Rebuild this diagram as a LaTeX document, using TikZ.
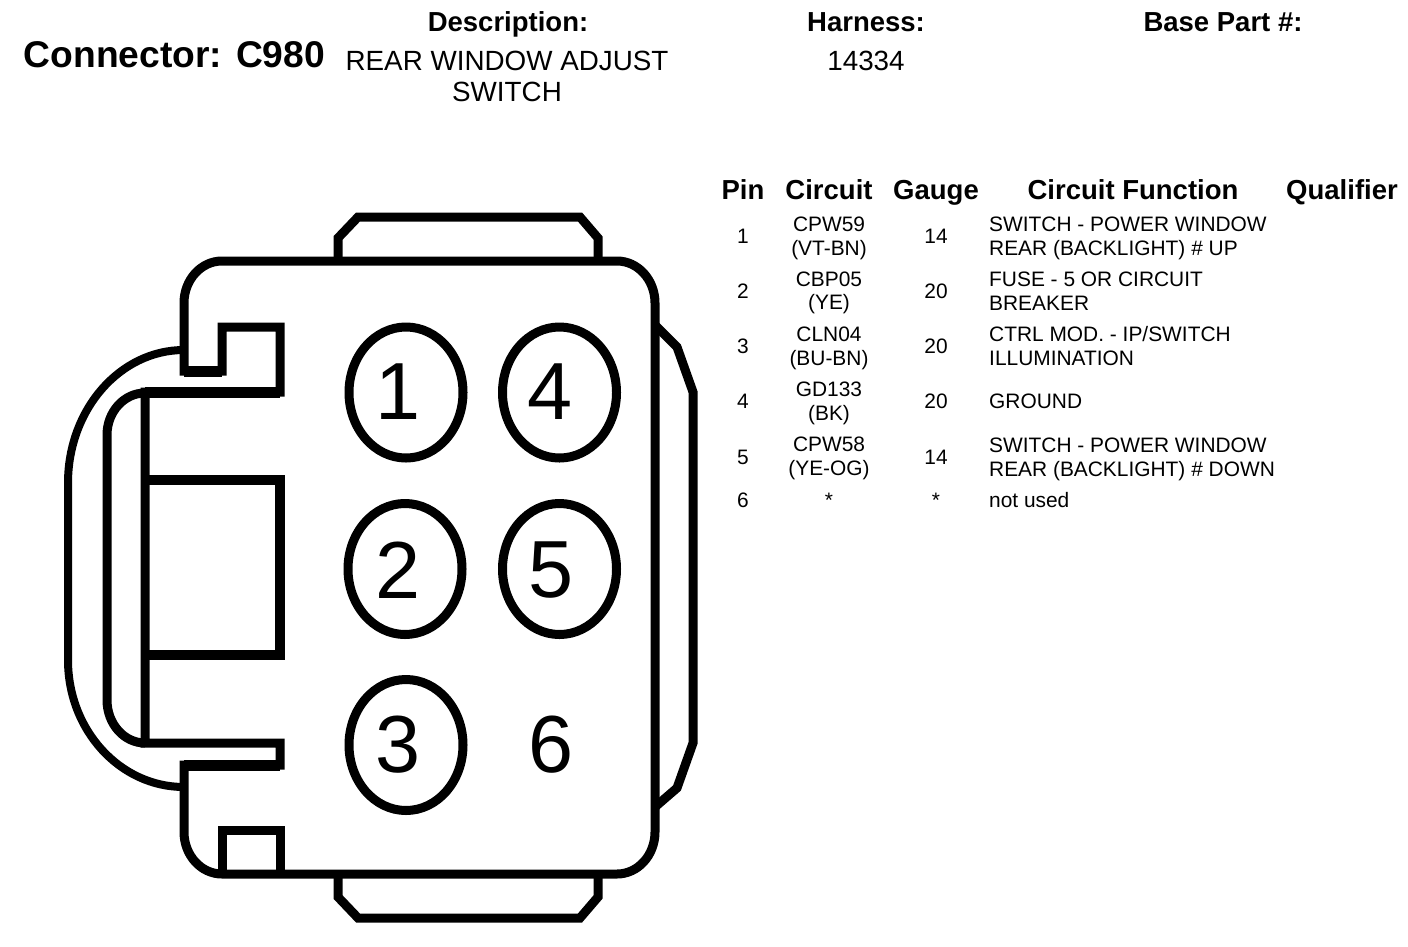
\documentclass[tikz,border=0pt]{standalone}
\usepackage{fontspec}
\setmainfont{Liberation Sans}
\usetikzlibrary{shapes.geometric}
\tikzset{
    wall/.style={line width=9pt, line join=miter, line cap=butt},
    heavy/.style={line width=11pt},
    hole/.style={draw, ellipse, line width=9pt, minimum width=114pt, minimum height=131pt, inner sep=0pt},
    digit/.style={inner sep=0pt, font=\fontsize{81}{81}\selectfont},
    title/.style={inner sep=0pt, anchor=base, font=\bfseries\fontsize{27.5}{30}\selectfont},
    big/.style={inner sep=0pt, anchor=base, font=\bfseries\fontsize{37.2}{40}\selectfont},
    info/.style={inner sep=0pt, align=center, font=\fontsize{27.8}{31}\selectfont},
    cell/.style={inner sep=0pt, align=center, font=\fontsize{20.9}{23.5}\selectfont},
    func/.style={inner sep=0pt, anchor=west, align=left, font=\fontsize{20.9}{23.5}\selectfont}
}
\begin{document}
\begin{tikzpicture}[x=1pt, y=-1pt]
\useasboundingbox (0,0) rectangle (1408,946);
%% heading
    \node[big] (conn) at (174.5,67) {Connector: C980};
    \node[title] (desc) at (508,31) {Description:};
    \node[title] (harn) at (866,31) {Harness:};
    \node[title] (base) at (1223,31) {Base Part \#:};
    \node[info] (desctext) at (507,76) {REAR WINDOW ADJUST\\SWITCH};
    \node[info] (harntext) at (866,61) {14334};
%% table head
    \node[title] (hpin) at (743,199) {Pin};
    \node[title] (hcirc) at (829,199) {Circuit};
    \node[title] (hgauge) at (936,199) {Gauge};
    \node[title] (hfunc) at (1133,199) {Circuit Function};
    \node[title] (hqual) at (1342,199) {Qualifier};
%% table rows
    \node[cell] (p1) at (743,236) {1};
    \node[cell] (c1) at (829,238.5) {CPW59\\(VT-BN)};
    \node[cell] (g1) at (936,236) {14};
    \node[func] (f1) at (989,238.5) {SWITCH - POWER WINDOW\\REAR (BACKLIGHT) \# UP};
    \node[cell] (p2) at (743,291) {2};
    \node[cell] (c2) at (829,293) {CBP05\\(YE)};
    \node[cell] (g2) at (936,291) {20};
    \node[func] (f2) at (989,291) {FUSE - 5 OR CIRCUIT\\BREAKER};
    \node[cell] (p3) at (743,346) {3};
    \node[cell] (c3) at (829,348.5) {CLN04\\(BU-BN)};
    \node[cell] (g3) at (936,346) {20};
    \node[func] (f3) at (989,346) {CTRL MOD. - IP/SWITCH\\ILLUMINATION};
    \node[cell] (p4) at (743,401) {4};
    \node[cell] (c4) at (829,403.5) {GD133\\(BK)};
    \node[cell] (g4) at (936,401) {20};
    \node[func] (f4) at (989,401) {GROUND};
    \node[cell] (p5) at (743,457) {5};
    \node[cell] (c5) at (829,458.5) {CPW58\\(YE-OG)};
    \node[cell] (g5) at (936,457) {14};
    \node[func] (f5) at (989,459.5) {SWITCH - POWER WINDOW\\REAR (BACKLIGHT) \# DOWN};
    \node[cell] (p6) at (743,500) {6};
    \node[cell] (c6) at (829,500) {*};
    \node[cell] (g6) at (936,500) {*};
    \node[func] (f6) at (989,500) {not used};
%% body outline
    \draw[wall] (222,261) -- (617,261) arc[start angle=270, end angle=360, x radius=38, y radius=42]
        -- (655,832) arc[start angle=0, end angle=90, x radius=38, y radius=42]
        -- (222,874) arc[start angle=90, end angle=180, x radius=38, y radius=42]
        -- (184,765) -- (280,765) -- (280,743) -- (145,743) -- (145,392) -- (280,392)
        -- (280,327) -- (222,327) -- (222,371) -- (184,371)
        -- (184,303) arc[start angle=180, end angle=270, x radius=38, y radius=42] -- cycle;
%% heavy edges
    \draw[heavy] (184,371) -- (222,371);
    \draw[heavy] (145,392) -- (280,392);
    \draw[heavy] (184,765) -- (280,765);
%% middle window
    \draw[wall, line width=10.5pt] (145,480) -- (280,480) -- (280,655) -- (145,655);
%% lower square
    \draw[wall] (222,874) -- (222,830) -- (280,830) -- (280,874);
%% top and bottom tabs
    \draw[wall] (338,261) -- (338,238) -- (358,217) -- (580,217) -- (598,238) -- (598,261);
    \draw[wall] (338,874) -- (338,897) -- (358,918) -- (580,918) -- (598,897) -- (598,874);
%% right clip
    \draw[wall] (655,325) -- (677,347) -- (693,392) -- (693,743) -- (677,788) -- (655,807);
%% left straps
    \draw[line width=8pt] (184,350) arc[start angle=270, end angle=180, x radius=116, y radius=133]
        -- (68,660) arc[start angle=180, end angle=90, x radius=116, y radius=127];
    \draw[wall] (145,393) arc[start angle=270, end angle=180, x radius=38, y radius=42]
        -- (107,700) arc[start angle=180, end angle=90, x radius=38, y radius=43];
%% pins
    \node[hole] (pin1) at (406,392.5) {};
    \node[hole] (pin4) at (559.5,392.5) {};
    \node[hole] (pin2) at (405,569) {};
    \node[hole] (pin5) at (559.5,569) {};
    \node[hole] (pin3) at (406,745) {};
    \node[digit] (num1) at (398,392) {1};
    \node[digit] (num4) at (550,392) {4};
    \node[digit] (num2) at (398,570) {2};
    \node[digit] (num5) at (551,570) {5};
    \node[digit] (num3) at (398,745) {3};
    \node[digit] (num6) at (551,745) {6};
\end{tikzpicture}
\end{document}
